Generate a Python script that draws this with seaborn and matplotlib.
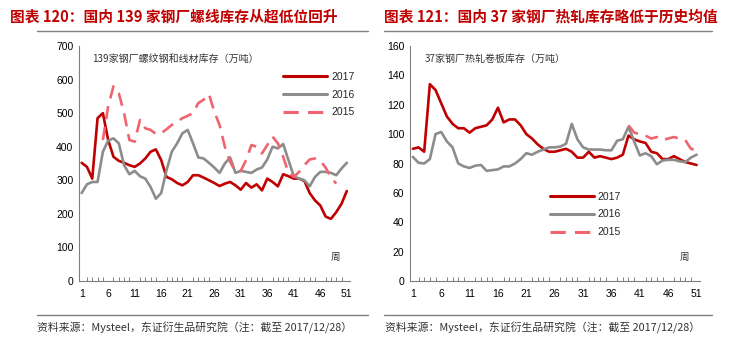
import numpy as np
import pandas as pd
import matplotlib
matplotlib.use("Agg")
import matplotlib.pyplot as plt
import seaborn as sns

# 数据：周度库存（万吨）
weeks = list(range(1, 52))

rebar_2017 = [352, 340, 305, 485, 500, 420, 370, 358, 352, 345, 340, 350, 365, 385, 392, 360, 310,
              303, 292, 285, 295, 315, 315, 308, 300, 292, 283, 290, 295, 285, 272, 292, 278, 288,
              270, 305, 295, 282, 318, 312, 305, 305, 298, 262, 240, 225, 192, 185, 205, 230, 268]
rebar_2016 = [262, 288, 295, 295, 385, 418, 425, 410, 345, 318, 328, 312, 305, 280, 245, 262, 330,
              385, 410, 440, 450, 410, 368, 365, 352, 338, 322, 350, 368, 322, 328, 325, 322, 332,
              338, 362, 400, 395, 408, 360, 312, 305, 300, 282, 310, 325, 325, 322, 315, 335, 352]
rebar_2015 = [np.nan] * 4 + [420, 520, 580, 560, 500, 420, 415, 480, 455, 450, 438, 440, 452, 465,
              475, 485, 492, 500, 530, 540, 557, 505, 465, 400, 355, 326, 328, 360, 405, 400, 380,
              405, 430, 410, 370, 322, 310, 325, 345, 362, 365, 358, 338, 310, 290] + [np.nan] * 2

hrc_2017 = [90, 91, 88, 134, 130, 121, 112, 107, 104, 104, 101, 104, 105, 106, 110, 118, 108, 110,
            110, 106, 100, 97, 93, 90, 88, 88, 89, 90, 88, 84, 84, 88, 84, 85, 84, 83, 84, 86, 99,
            96.5, 95, 94, 88, 87, 83, 83, 85, 83, 81, 80, 79]
hrc_2016 = [84.5, 80.5, 80, 83, 100, 101.5, 95, 91, 80, 78, 77, 78.5, 79, 75, 75.5, 76, 78, 78, 80,
            83, 87, 86, 88, 89.5, 91, 91, 91.5, 93.5, 107, 96.5, 91, 89.5, 89.5, 89.5, 89, 89, 95.5,
            96.5, 105, 95, 85.5, 87, 85, 79.5, 82, 82.5, 82.5, 81.5, 81, 84, 86]
hrc_2015 = [np.nan] * 38 + [106, 101, 100, 99, 97, 98, 96, 97, 98, 97, 96, 90, 89]

x_labels = list(range(1, 52, 5))

RED = "#C00000"
GRAY = "#8C8C8C"
PINK = "#F06470"

sns.set_theme(style="white")
plt.rcParams['font.family'] = ['Liberation Sans', 'Noto Sans CJK SC', 'DejaVu Sans']
plt.rcParams['axes.unicode_minus'] = False


def draw_panel(ax, s2017, s2016, s2015, ymax, ystep, note, legend_loc):
    df = pd.DataFrame({'周': weeks * 3,
                       '库存': list(s2017) + list(s2016) + list(s2015),
                       '年份': ['2017'] * 51 + ['2016'] * 51 + ['2015'] * 51})
    sns.lineplot(data=df, x='周', y='库存', hue='年份', style='年份',
                 palette={'2017': RED, '2016': GRAY, '2015': PINK},
                 dashes={'2017': '', '2016': '', '2015': (5, 3)},
                 linewidth=1.9, ax=ax)
    ax.set_xlim(0.5, 51.6)
    ax.set_ylim(0, ymax)
    ax.set_yticks(np.arange(0, ymax + 1, ystep))
    ax.set_xticks(weeks, minor=True)
    ax.set_xticks(x_labels)
    ax.set_xlabel('')
    ax.set_ylabel('')
    for s in ['top', 'right']:
        ax.spines[s].set_visible(False)
    for s in ['left', 'bottom']:
        ax.spines[s].set_color('#7F7F7F')
        ax.spines[s].set_linewidth(0.8)
    ax.tick_params(axis='both', direction='in', labelsize=7.5, colors='#7F7F7F',
                   labelcolor='black', length=3, width=0.7, pad=4)
    ax.tick_params(axis='x', which='minor', direction='in', length=3, width=0.7,
                   colors='#7F7F7F', bottom=True)
    ax.tick_params(axis='x', which='major', length=3, pad=6)
    ax.text(0.05, 0.965, note, transform=ax.transAxes, fontsize=7.2, va='top',
            family=['Noto Sans CJK SC', 'DejaVu Sans'], color='#333333')
    ax.text(0.93, 0.09, '周', transform=ax.transAxes, fontsize=6.8,
            family=['Noto Sans CJK SC'], color='#333333')
    leg = ax.legend(loc=legend_loc[0], bbox_to_anchor=legend_loc[1], frameon=False,
                    fontsize=7.5, handlelength=4.2, labelspacing=0.75, handletextpad=0.4)
    for line in leg.get_lines():
        line.set_linewidth(2.2)


fig = plt.figure(figsize=(7.29, 3.6), dpi=100)
ax1 = fig.add_axes([79 / 729, 1 - 281 / 360, 271 / 729, 235 / 360])
ax2 = fig.add_axes([410 / 729, 1 - 281 / 360, 290 / 729, 235 / 360])

draw_panel(ax1, rebar_2017, rebar_2016, rebar_2015, 700, 100,
           '139家钢厂螺纹钢和线材库存（万吨）', ('upper left', (0.72, 0.93)))
draw_panel(ax2, hrc_2017, hrc_2016, hrc_2015, 160, 20,
           '37家钢厂热轧卷板库存（万吨）', ('upper left', (0.45, 0.42)))

cjk = ['Noto Sans CJK SC', 'DejaVu Sans']
fig.text(10 / 729, 1 - 17 / 360, '图表 120：国内 139 家钢厂螺线库存从超低位回升', color=RED,
         fontsize=10.6, fontweight='bold', family=cjk, va='center')
fig.text(384 / 729, 1 - 17 / 360, '图表 121：国内 37 家钢厂热轧库存略低于历史均值', color=RED,
         fontsize=10.6, fontweight='bold', family=cjk, va='center')

src = '资料来源：Mysteel，东证衍生品研究院（注：截至 2017/12/28）'
fig.text(37 / 729, 1 - 328 / 360, src, fontsize=7.8, family=cjk, va='center', color='#333333')
fig.text(385 / 729, 1 - 328 / 360, src, fontsize=7.8, family=cjk, va='center', color='#333333')

for x0, x1 in [(37, 368), (384, 712)]:
    for y in (30.5, 315):
        fig.add_artist(plt.Line2D([x0 / 729, x1 / 729], [1 - y / 360, 1 - y / 360],
                                  color='#7F7F7F', linewidth=1.0))

fig.savefig('out.png', dpi=100)
